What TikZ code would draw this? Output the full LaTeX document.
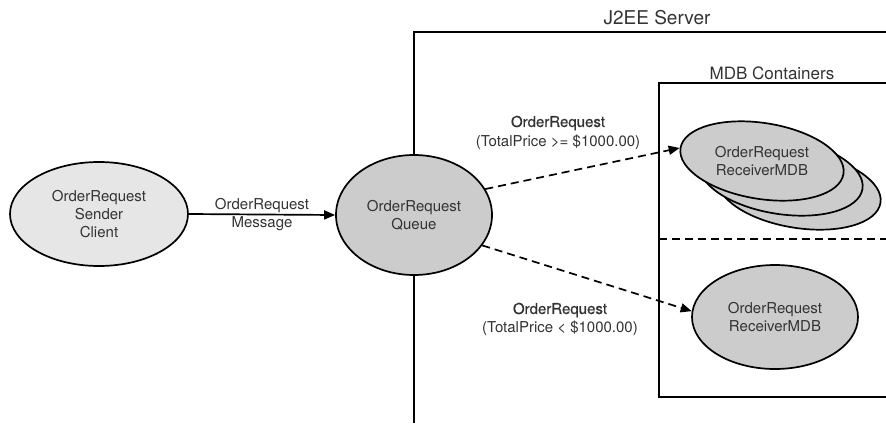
\documentclass[tikz,border=0pt]{standalone}
\usepackage{fontspec}
\setmainfont{TeX Gyre Heros}
\newfontfamily\medfont[FakeBold=0.6]{TeX Gyre Heros}
\usetikzlibrary{shapes.geometric,arrows.meta}
\definecolor{txt}{HTML}{333333}
\definecolor{lightfill}{HTML}{E6E6E6}
\definecolor{midfill}{HTML}{CCCCCC}
\tikzset{
  bubble/.style={ellipse, draw=black, line width=1.7pt, fill=midfill,
    inner sep=0pt, align=center, text=txt,
    font=\fontsize{15}{18}\selectfont},
  frame/.style={draw=black, line width=1.7pt},
  caption/.style={text=txt, align=center, inner sep=1pt,
    font=\fontsize{15}{18}\selectfont},
  flow/.style={draw=black, line width=1.7pt,
    -{Triangle[length=11pt,width=9pt]}},
  dashflow/.style={flow, dash pattern=on 8pt off 5pt},
}
\begin{document}
\begin{tikzpicture}[x=1pt,y=-1pt]
  \useasboundingbox (0,0) rectangle (886,423);
  \begin{scope}
    \clip (0,0) rectangle (886,423);
    % server frame
    \draw[frame] (414,423) -- (414,32) -- (890,32);
    % container frame with its divider
    \draw[frame] (890,83) -- (659,83) -- (659,397) -- (890,397);
    \draw[frame, dash pattern=on 8pt off 5pt] (659,239) -- (890,239);
  \end{scope}
  \node[text=txt, font=\fontsize{19}{20}\selectfont] (srvlbl) at (657,18) {J2EE Server};
  \node[text=txt, font=\fontsize{17}{18}\selectfont] (mdblbl) at (772,73) {MDB Containers};

  % clients and queue
  \node[bubble, fill=lightfill, minimum width=178pt, minimum height=104pt]
    (sender) at (99,214) {OrderRequest\\Sender\\Client};
  \node[bubble, minimum width=156pt, minimum height=120pt]
    (queue) at (414,215) {OrderRequest\\Queue};

  % stacked receiver instances
  \node[bubble, rotate=-9, minimum width=165pt, minimum height=76pt] (mdbC) at (799,190) {};
  \node[bubble, rotate=-9, minimum width=165pt, minimum height=76pt] (mdbB) at (781,176) {};
  \node[bubble, rotate=-9, minimum width=165pt, minimum height=76pt] (mdbA) at (762,161) {};
  \node[caption, inner sep=0pt] (mdbAtext) at (762,161) {OrderRequest\\ReceiverMDB};

  % single receiver
  \node[bubble, minimum width=166pt, minimum height=104pt]
    (mdbD) at (775,317) {OrderRequest\\ReceiverMDB};

  % messages
  \draw[flow] (sender.east) -- (queue.west)
    node[caption, midway, above] (msgtop) {OrderRequest}
    node[caption, midway, below] (msgbot) {Message};
  \draw[dashflow] (queue.20) -- (mdbA.west);
  \draw[dashflow] (queue.-24) -- (mdbD.176);

  \node[caption] (hiA) at (558,123) {\medfont OrderRequest};
  \node[caption] (hiB) at (558,142) {(TotalPrice >= \$1000.00)};
  \node[caption] (loA) at (560,310) {\medfont OrderRequest};
  \node[caption] (loB) at (560,328) {(TotalPrice < \$1000.00)};
\end{tikzpicture}
\end{document}
